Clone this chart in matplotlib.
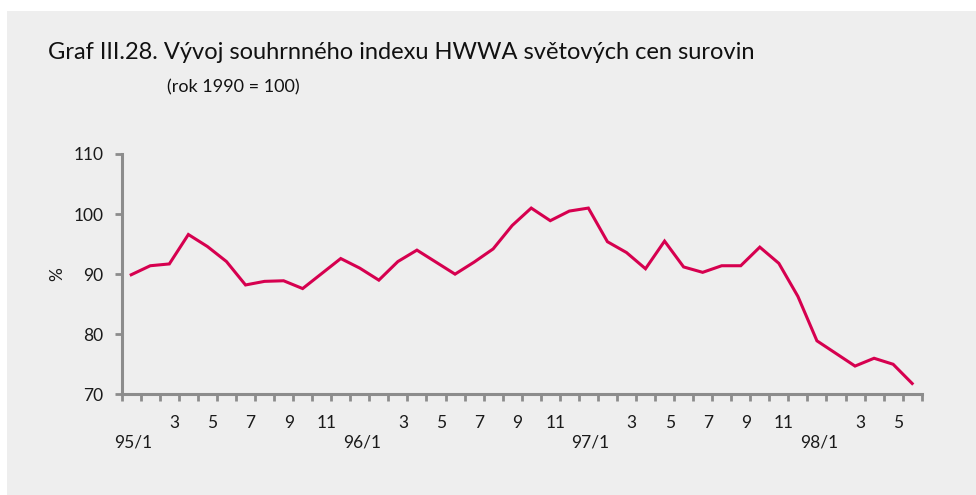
import matplotlib
matplotlib.use("Agg")
import matplotlib.pyplot as plt
from matplotlib.patches import Rectangle

# HWWA index of world commodity prices, monthly 1995/1 - 1998/6 (1990 = 100)
hwwa = [89.9, 91.4, 91.7, 96.6, 94.6, 92.1, 88.2, 88.8, 88.9, 87.6, 90.1, 92.6,
        91.0, 89.0, 92.1, 94.0, 92.0, 90.0, 92.0, 94.2, 98.1, 101.0, 98.9, 100.5,
        101.0, 95.4, 93.6, 90.9, 95.5, 91.2, 90.3, 91.4, 91.4, 94.5, 91.8, 86.3,
        78.9, 76.8, 74.7, 76.0, 75.0, 71.8]
month_labels = ["3", "5", "7", "9", "11"]
month_numbers = [3, 5, 7, 9, 11]
year_labels = ["95/1", "96/1", "97/1", "98/1"]
y_ticks = [70, 80, 90, 100, 110]

plt.rcParams["font.family"] = ["Lato", "DejaVu Sans"]

bg = "#eeeeee"
axis_col = "#8c8c8c"
line_col = "#d6004f"
text_col = "#1a1a1a"
fs = 12.5

fig = plt.figure(figsize=(9.76, 4.95), dpi=100)
fig.patch.set_facecolor("white")
# grey panel with a thin white margin on the left and top
fig.patches.append(Rectangle((7 / 976, 0), 1, 1 - 11 / 495, transform=fig.transFigure,
                             facecolor=bg, edgecolor="none", zorder=-1))

ax = fig.add_axes([121.7 / 976, 100.7 / 495, 800 / 976, 240.3 / 495])
ax.set_facecolor(bg)

x = list(range(1, len(hwwa) + 1))
ax.plot(x, hwwa, color=line_col, lw=2.2, solid_joinstyle="miter")

ax.set_xlim(0.5, len(hwwa) + 0.5)
ax.set_ylim(70, 110)
ax.set_yticks(y_ticks)
ax.set_yticklabels([str(v) for v in y_ticks], fontsize=fs, color=text_col)

# category boundaries carry the tick marks
ax.set_xticks([i + 0.5 for i in range(0, len(hwwa) + 1)])
ax.set_xticklabels([])
ax.tick_params(axis="x", direction="out", length=5, width=2, color=axis_col)
ax.tick_params(axis="y", direction="out", length=5, width=2, color=axis_col, pad=8)

for side in ["top", "right"]:
    ax.spines[side].set_visible(False)
for side in ["left", "bottom"]:
    ax.spines[side].set_color(axis_col)
    ax.spines[side].set_linewidth(2.2)

trans = ax.get_xaxis_transform()
for year in range(4):
    for lab, m in zip(month_labels, month_numbers):
        pos = year * 12 + m
        if pos <= len(hwwa):
            ax.text(pos + 0.27, -0.12, lab, transform=trans, ha="center", va="center",
                    fontsize=fs, color=text_col)
    ax.text(year * 12 + 1 + 0.12, -0.2, year_labels[year], transform=trans,
            ha="center", va="center", fontsize=fs, color=text_col)

ax.set_ylabel("%", fontsize=fs, color=text_col, labelpad=6)

fig.text(48 / 976, 1 - 59 / 495, "Graf III.28. Vývoj souhrnného indexu HWWA světových cen surovin",
         ha="left", va="baseline", fontsize=17, color="#111111")
fig.text(167 / 976, 1 - 92 / 495, "(rok 1990 = 100)", ha="left", va="baseline",
         fontsize=13, color="#111111")

fig.savefig("out.png", dpi=100, facecolor=fig.get_facecolor())
